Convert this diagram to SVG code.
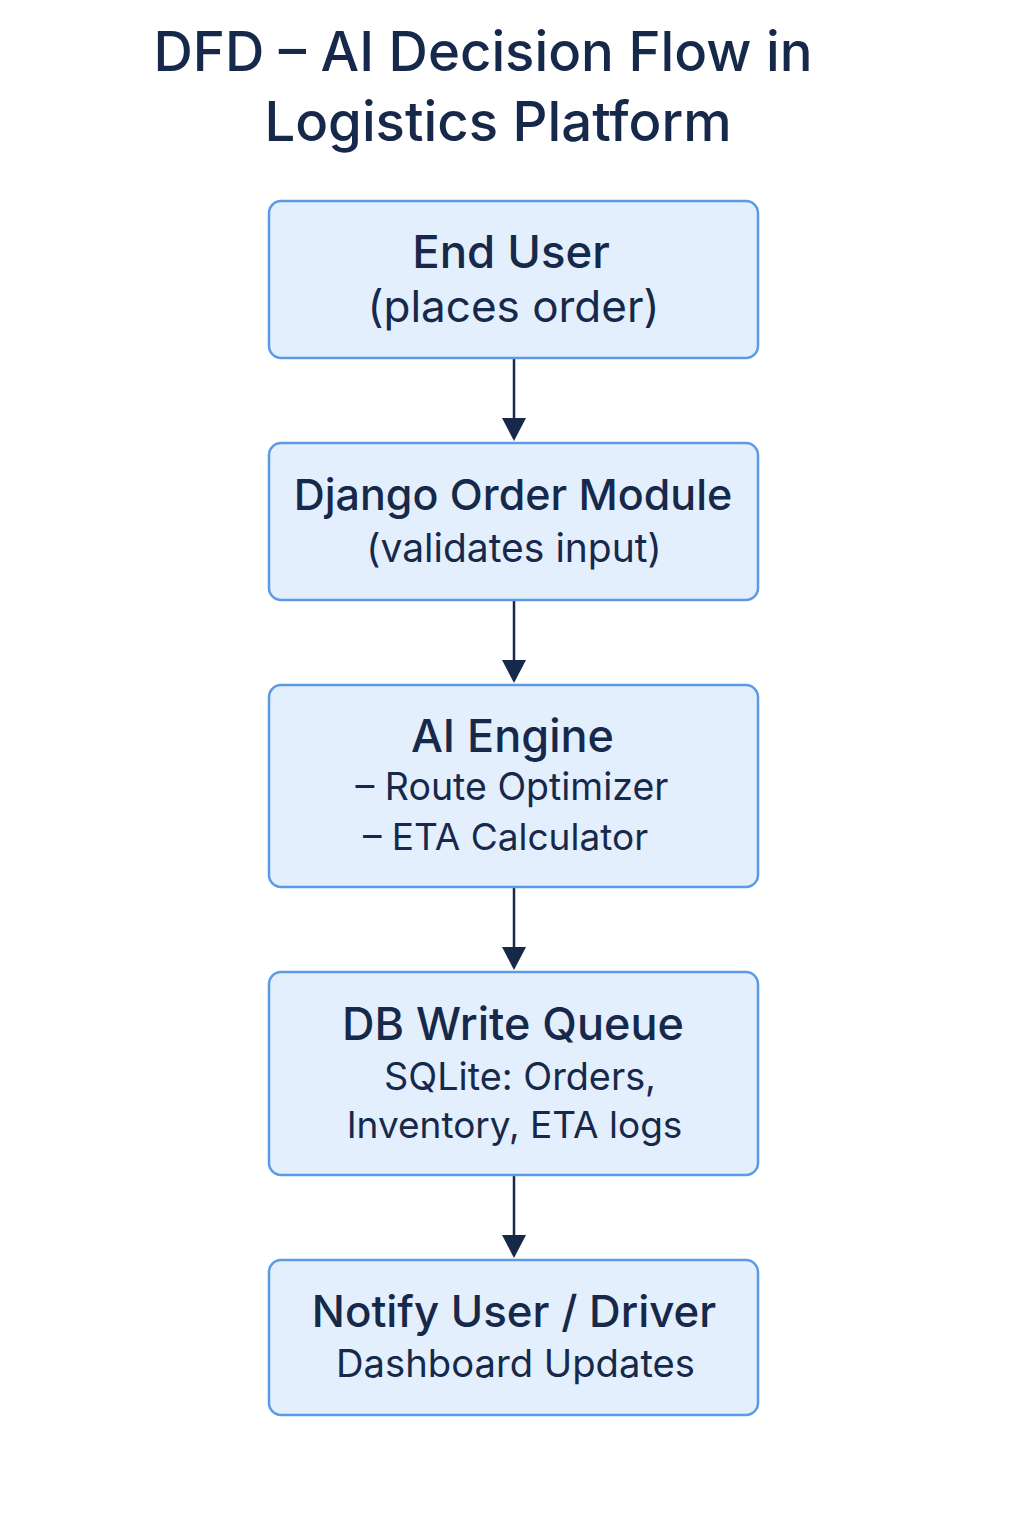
<svg xmlns="http://www.w3.org/2000/svg" width="1024" height="1536" viewBox="0 0 1024 1536">
<defs>
<style>
.box{fill:#e3effd;stroke:#5b9be6;stroke-width:2.5}
text{font-family:Inter,"Liberation Sans",Arial,sans-serif;fill:#17294a;text-anchor:middle}
.t{font-size:54.5px;font-weight:500}
.h{font-weight:500}
</style>
</defs>
<rect width="1024" height="1536" fill="#ffffff"/>
<g id="title">
<text class="t" x="483" y="71">DFD – AI Decision Flow in</text>
<text class="t" x="498" y="141">Logistics Platform</text>
</g>
<g id="connectors">
<line x1="514" y1="359" x2="514" y2="418" stroke="#17294a" stroke-width="2.5"/>
<polygon points="502,418 526,418 514,441" fill="#17294a"/>
<line x1="514" y1="601" x2="514" y2="660" stroke="#17294a" stroke-width="2.5"/>
<polygon points="502,660 526,660 514,683" fill="#17294a"/>
<line x1="514" y1="888" x2="514" y2="947" stroke="#17294a" stroke-width="2.5"/>
<polygon points="502,947 526,947 514,970" fill="#17294a"/>
<line x1="514" y1="1176" x2="514" y2="1235" stroke="#17294a" stroke-width="2.5"/>
<polygon points="502,1235 526,1235 514,1258" fill="#17294a"/>
</g>
<g id="end-user">
<rect class="box" x="269" y="201" width="489" height="157" rx="12"/>
<text class="h" x="511" y="268" font-size="45.5">End User</text>
<text x="513.5" y="322" font-size="44">(places order)</text>
</g>
<g id="django-order-module">
<rect class="box" x="269" y="443" width="489" height="157" rx="12"/>
<text class="h" x="513" y="510" font-size="43">Django Order Module</text>
<text x="514" y="562" font-size="39">(validates input)</text>
</g>
<g id="ai-engine">
<rect class="box" x="269" y="685" width="489" height="202" rx="12"/>
<text class="h" x="512.5" y="752" font-size="45">AI Engine</text>
<text x="512" y="800" font-size="37.5">– Route Optimizer</text>
<text x="505.5" y="850" font-size="37">– ETA Calculator</text>
</g>
<g id="db-write-queue">
<rect class="box" x="269" y="972" width="489" height="203" rx="12"/>
<text class="h" x="513" y="1040" font-size="45">DB Write Queue</text>
<text x="520" y="1090" font-size="37.8">SQLite: Orders,</text>
<text x="514.5" y="1138" font-size="37">Inventory, ETA logs</text>
</g>
<g id="notify">
<rect class="box" x="269" y="1260" width="489" height="155" rx="12"/>
<text class="h" x="514" y="1327" font-size="43.8">Notify User / Driver</text>
<text x="515.5" y="1377" font-size="38.2">Dashboard Updates</text>
</g>
</svg>
